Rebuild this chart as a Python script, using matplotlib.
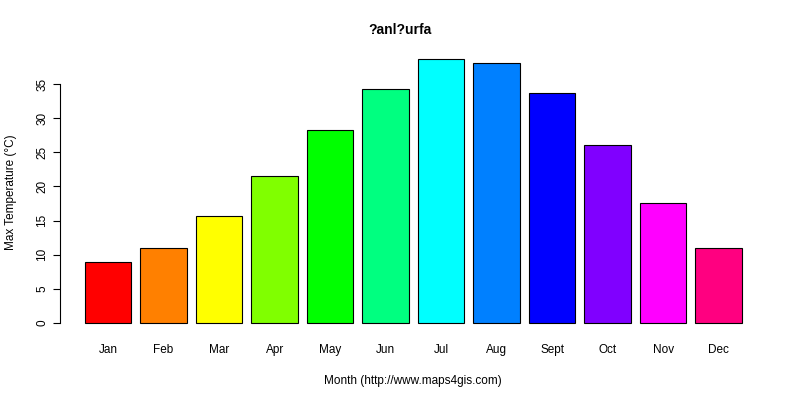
import matplotlib
matplotlib.use("Agg")
from matplotlib import pyplot as plt

months = ["Jan", "Feb", "Mar", "Apr", "May", "Jun", "Jul", "Aug", "Sept", "Oct", "Nov", "Dec"]
max_temp = [8.9, 11.0, 15.7, 21.5, 28.2, 34.3, 38.6, 38.1, 33.7, 26.0, 17.5, 11.0]
colors = ["#FF0000", "#FF8000", "#FFFF00", "#80FF00", "#00FF00", "#00FF80",
          "#00FFFF", "#0080FF", "#0000FF", "#8000FF", "#FF00FF", "#FF0080"]

plt.rcParams['font.family'] = ['Liberation Sans', 'DejaVu Sans']

fig = plt.figure(figsize=(8, 4), dpi=100)
ax = fig.add_axes([58.7 / 800, 66.5 / 400, 709.3 / 800, 283 / 400])

# R barplot style: width 1, space 0.2
centers = [0.7 + 1.2 * i for i in range(len(months))]
ax.bar(centers, max_temp, width=1.0, color=colors, edgecolor="black", linewidth=0.8)

ax.set_xlim(-0.368, 14.968)
ax.set_ylim(-1.54, 39.9)

for s in ["top", "right", "bottom"]:
    ax.spines[s].set_visible(False)
ax.spines["left"].set_bounds(0, 35)
ax.spines["left"].set_position(("outward", -1))
ax.set_yticks(range(0, 36, 5))
ax.tick_params(axis="y", direction="out", length=5, labelsize=8.5, labelrotation=90)
for lab in ax.get_yticklabels():
    lab.set_va("center")

ax.set_xticks(centers)
ax.set_xticklabels(months, fontsize=8.5)
ax.tick_params(axis="x", length=0, pad=7.5)

ax.set_ylabel("Max Temperature (°C)", fontsize=8.5, labelpad=14)
ax.set_xlabel("Month (http://www.maps4gis.com)", fontsize=8.5, labelpad=14)
fig.text(0.5, 1 - 30 / 400, "?anl?urfa", ha="center", va="center", fontsize=10, fontweight="bold")

fig.savefig("out.png", dpi=100)
